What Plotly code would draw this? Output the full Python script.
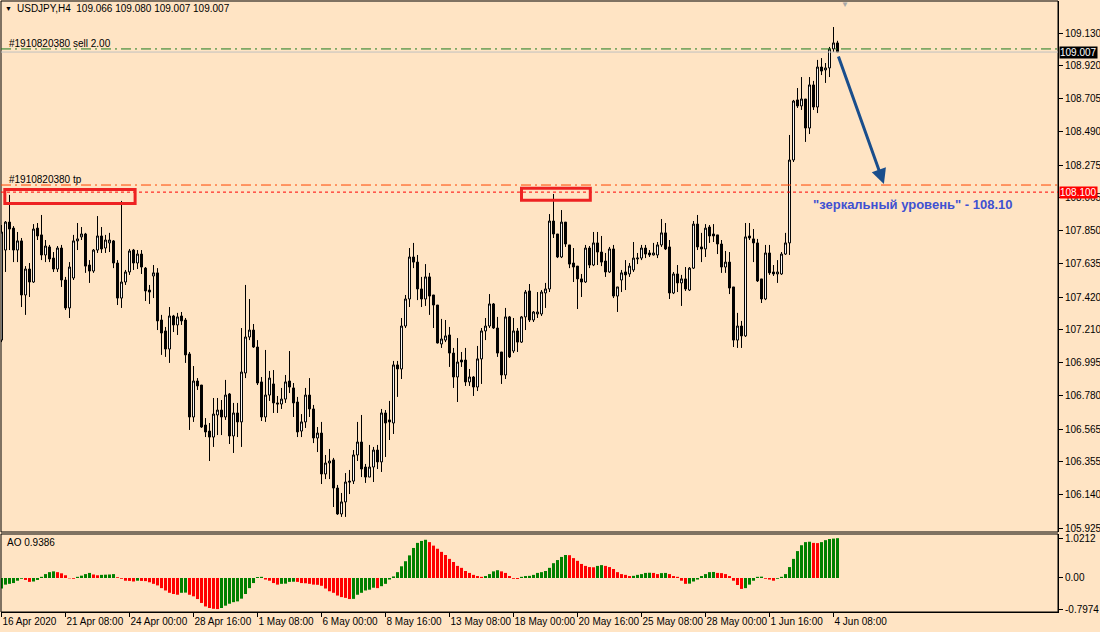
import plotly.graph_objects as go

# ---------------- data ----------------
opens = [107.142, 107.725, 107.906, 107.867, 107.725, 107.784, 107.434, 107.602, 107.518, 107.867,
         107.823, 107.693, 107.745, 107.673, 107.602, 107.738, 107.531, 107.350, 107.544, 107.784,
         107.810, 107.829, 107.628, 107.589, 107.725, 107.816, 107.738, 107.771, 107.784, 107.641,
         107.414, 107.518, 107.583, 107.725, 107.641, 107.699, 107.608, 107.466, 107.557, 107.577,
         107.272, 107.201, 107.084, 107.298, 107.240, 107.298, 107.272, 107.052, 106.644, 106.877,
         106.851, 106.592, 106.553, 106.514, 106.657, 106.689, 106.644, 106.793, 106.521, 106.670,
         106.612, 106.929, 107.162, 107.207, 107.097, 106.871, 106.644, 106.786, 106.858, 106.735,
         106.728, 106.760, 106.877, 106.832, 106.741, 106.553, 106.612, 106.786, 106.696, 106.508,
         106.540, 106.275, 106.346, 106.366, 106.184, 106.016, 106.094, 106.229, 106.229, 106.398,
         106.482, 106.320, 106.255, 106.320, 106.430, 106.353, 106.670, 106.625, 106.605, 106.981,
         106.955, 107.233, 107.408, 107.680, 107.647, 107.473, 107.408, 107.551, 107.434, 107.369,
         107.117, 107.142, 107.175, 107.058, 106.903, 107.013, 107.013, 106.871, 106.903, 106.838,
         107.020, 107.201, 107.233, 107.376, 107.220, 107.065, 106.916, 107.292, 107.071, 107.201,
         107.129, 107.292, 107.460, 107.272, 107.311, 107.311, 107.447, 107.473, 107.913, 107.829,
         107.680, 107.906, 107.758, 107.641, 107.621, 107.538, 107.518, 107.738, 107.628, 107.771,
         107.712, 107.654, 107.583, 107.732, 107.427, 107.531, 107.583, 107.570, 107.596, 107.667,
         107.673, 107.738, 107.706, 107.693, 107.693, 107.758, 107.836, 107.745, 107.447, 107.570,
         107.512, 107.538, 107.466, 107.608, 107.893, 107.745, 107.732, 107.874, 107.829, 107.823,
         107.764, 107.615, 107.647, 107.486, 107.142, 107.233, 107.169, 107.816, 107.797, 107.771,
         107.538, 107.408, 107.706, 107.583, 107.570, 107.570, 107.699, 107.771, 108.308, 108.697,
         108.658, 108.703, 108.515, 108.794, 108.651, 108.910, 108.891, 108.904, 109.027, 109.066]
highs = [107.887, 107.913, 108.082, 107.880, 107.842, 107.803, 107.621, 107.641, 107.893, 107.900,
         107.952, 107.790, 107.758, 107.712, 107.751, 107.758, 107.551, 107.647, 107.823, 107.900,
         107.874, 107.836, 107.660, 107.732, 107.945, 107.874, 107.823, 107.836, 107.790, 107.660,
         108.043, 107.596, 107.732, 107.732, 107.725, 107.725, 107.615, 107.499, 107.628, 107.608,
         107.305, 107.227, 107.356, 107.305, 107.318, 107.324, 107.285, 107.065, 106.974, 106.896,
         106.851, 106.637, 106.605, 106.767, 106.767, 106.754, 106.884, 106.799, 106.735, 106.735,
         107.220, 107.499, 107.408, 107.246, 107.142, 106.903, 107.078, 106.942, 106.948, 106.780,
         106.832, 106.916, 107.071, 106.864, 106.774, 106.663, 106.832, 106.896, 106.722, 106.579,
         106.612, 106.398, 106.437, 106.379, 106.204, 106.152, 106.281, 106.301, 106.430, 106.612,
         106.657, 106.340, 106.463, 106.450, 106.463, 106.696, 106.689, 106.748, 107.007, 107.007,
         107.285, 107.434, 107.738, 107.771, 107.693, 107.551, 107.634, 107.577, 107.434, 107.369,
         107.279, 107.272, 107.227, 107.091, 107.155, 107.065, 107.091, 106.955, 106.909, 107.104,
         107.220, 107.285, 107.440, 107.382, 107.292, 107.065, 107.350, 107.298, 107.285, 107.220,
         107.298, 107.466, 107.505, 107.330, 107.453, 107.466, 107.512, 107.958, 108.088, 107.829,
         107.984, 107.906, 107.758, 107.738, 107.621, 107.570, 107.758, 107.751, 107.842, 107.842,
         107.816, 107.706, 107.745, 107.758, 107.486, 107.596, 107.660, 107.641, 107.777, 107.706,
         107.758, 107.758, 107.725, 107.771, 107.777, 107.926, 107.900, 107.790, 107.583, 107.628,
         107.564, 107.615, 107.615, 107.913, 107.952, 107.836, 107.893, 107.887, 107.893, 107.823,
         107.790, 107.719, 107.712, 107.486, 107.318, 107.266, 107.900, 107.900, 107.861, 107.797,
         107.538, 107.758, 107.758, 107.628, 107.660, 107.712, 107.836, 108.470, 108.697, 108.774,
         108.845, 108.703, 108.845, 108.820, 108.956, 108.968, 108.936, 109.040, 109.169, 109.080]
lows = [107.129, 107.583, 107.725, 107.647, 107.647, 107.356, 107.305, 107.421, 107.512, 107.790,
        107.660, 107.647, 107.647, 107.583, 107.583, 107.486, 107.337, 107.285, 107.531, 107.725,
        107.790, 107.577, 107.512, 107.577, 107.706, 107.706, 107.706, 107.712, 107.608, 107.369,
        107.350, 107.499, 107.564, 107.596, 107.602, 107.570, 107.395, 107.376, 107.414, 107.207,
        107.046, 107.033, 106.994, 107.194, 107.175, 107.240, 106.994, 106.560, 106.612, 106.819,
        106.573, 106.514, 106.359, 106.450, 106.527, 106.527, 106.625, 106.469, 106.411, 106.514,
        106.450, 106.896, 107.142, 107.091, 106.851, 106.618, 106.612, 106.748, 106.670, 106.670,
        106.696, 106.735, 106.799, 106.644, 106.514, 106.514, 106.573, 106.644, 106.475, 106.417,
        106.210, 106.242, 106.242, 106.061, 106.010, 105.997, 105.997, 106.145, 106.210, 106.359,
        106.255, 106.217, 106.255, 106.223, 106.307, 106.288, 106.385, 106.495, 106.534, 106.774,
        106.890, 107.220, 107.356, 107.608, 107.401, 107.356, 107.363, 107.305, 107.220, 107.120,
        107.091, 107.129, 106.968, 106.832, 106.741, 106.968, 106.845, 106.845, 106.780, 106.812,
        106.858, 107.142, 107.220, 107.214, 107.033, 106.858, 106.890, 107.026, 107.058, 107.065,
        107.123, 107.207, 107.259, 107.259, 107.285, 107.298, 107.350, 107.453, 107.803, 107.673,
        107.673, 107.745, 107.608, 107.518, 107.343, 107.421, 107.512, 107.608, 107.621, 107.628,
        107.621, 107.551, 107.577, 107.414, 107.324, 107.453, 107.466, 107.551, 107.583, 107.634,
        107.660, 107.673, 107.680, 107.690, 107.673, 107.745, 107.725, 107.408, 107.440, 107.453,
        107.363, 107.460, 107.460, 107.602, 107.725, 107.647, 107.680, 107.771, 107.777, 107.699,
        107.577, 107.577, 107.440, 107.097, 107.091, 107.091, 107.162, 107.790, 107.647, 107.518,
        107.382, 107.401, 107.564, 107.557, 107.512, 107.564, 107.693, 107.693, 108.295, 108.645,
        108.632, 108.425, 108.476, 108.632, 108.612, 108.858, 108.807, 108.845, 109.007, 109.007]
closes = [107.842, 107.906, 107.861, 107.725, 107.784, 107.434, 107.602, 107.518, 107.861, 107.816,
          107.693, 107.751, 107.667, 107.602, 107.738, 107.531, 107.350, 107.615, 107.784, 107.797,
          107.829, 107.621, 107.589, 107.725, 107.816, 107.732, 107.790, 107.790, 107.641, 107.414,
          107.518, 107.583, 107.719, 107.641, 107.699, 107.615, 107.460, 107.453, 107.577, 107.266,
          107.188, 107.084, 107.298, 107.240, 107.292, 107.266, 107.046, 106.644, 106.877, 106.845,
          106.579, 106.547, 106.514, 106.663, 106.689, 106.644, 106.786, 106.521, 106.670, 106.612,
          106.935, 107.162, 107.207, 107.097, 106.864, 106.644, 106.786, 106.896, 106.735, 106.728,
          106.760, 106.871, 106.838, 106.735, 106.547, 106.612, 106.786, 106.696, 106.508, 106.540,
          106.275, 106.346, 106.359, 106.184, 106.016, 106.094, 106.223, 106.223, 106.398, 106.482,
          106.307, 106.255, 106.320, 106.430, 106.353, 106.670, 106.605, 106.612, 106.981, 106.955,
          107.233, 107.408, 107.680, 107.647, 107.473, 107.408, 107.551, 107.427, 107.369, 107.123,
          107.149, 107.169, 107.058, 106.903, 107.000, 107.000, 106.871, 106.903, 106.838, 107.020,
          107.201, 107.233, 107.376, 107.220, 107.058, 106.916, 107.292, 107.033, 107.201, 107.129,
          107.292, 107.453, 107.272, 107.324, 107.324, 107.453, 107.473, 107.913, 107.829, 107.680,
          107.906, 107.764, 107.634, 107.615, 107.538, 107.518, 107.738, 107.628, 107.771, 107.712,
          107.647, 107.583, 107.732, 107.427, 107.486, 107.577, 107.564, 107.621, 107.673, 107.673,
          107.738, 107.699, 107.693, 107.706, 107.758, 107.836, 107.732, 107.447, 107.570, 107.512,
          107.538, 107.473, 107.608, 107.893, 107.745, 107.732, 107.867, 107.816, 107.816, 107.764,
          107.615, 107.647, 107.479, 107.142, 107.233, 107.169, 107.810, 107.803, 107.771, 107.525,
          107.408, 107.706, 107.577, 107.570, 107.583, 107.699, 107.771, 108.308, 108.690, 108.658,
          108.703, 108.515, 108.794, 108.651, 108.910, 108.884, 108.904, 109.027, 109.066, 109.007]

ao_values = [-0.27, -0.17, -0.15, -0.13, -0.07, -0.02, -0.05, -0.10, -0.09, -0.05,
             0.03, 0.10, 0.15, 0.17, 0.15, 0.12, 0.07, -0.01, -0.02, 0.03,
             0.06, 0.10, 0.13, 0.09, 0.07, 0.08, 0.085, 0.09, 0.10, 0.02,
             -0.02, -0.07, -0.075, -0.09, -0.07, -0.075, -0.08, -0.11, -0.15, -0.19,
             -0.26, -0.32, -0.38, -0.41, -0.43, -0.38, -0.375, -0.43, -0.47, -0.54,
             -0.64, -0.73, -0.77, -0.79, -0.7974, -0.77, -0.71, -0.66, -0.62, -0.60,
             -0.53, -0.41, -0.26, -0.13, 0.025, 0.03, -0.04, -0.07, -0.13, -0.17,
             -0.15, -0.145, -0.10, -0.095, -0.10, -0.13, -0.135, -0.15, -0.17, -0.175,
             -0.20, -0.27, -0.34, -0.38, -0.45, -0.49, -0.51, -0.54, -0.535, -0.43,
             -0.38, -0.32, -0.30, -0.25, -0.26, -0.21, -0.15, -0.04, 0.04, 0.15,
             0.30, 0.43, 0.58, 0.77, 0.90, 0.95, 0.98, 0.92, 0.83, 0.75,
             0.67, 0.59, 0.49, 0.41, 0.31, 0.26, 0.18, 0.13, 0.08, 0.05,
             0.03, 0.05, 0.10, 0.17, 0.20, 0.17, 0.13, 0.05, -0.02, -0.025,
             0.03, 0.05, 0.055, 0.08, 0.13, 0.15, 0.18, 0.26, 0.38, 0.46,
             0.54, 0.59, 0.585, 0.51, 0.44, 0.36, 0.31, 0.28, 0.275, 0.31,
             0.33, 0.31, 0.28, 0.23, 0.15, 0.10, 0.08, 0.05, 0.055, 0.08,
             0.10, 0.13, 0.135, 0.13, 0.10, 0.125, 0.13, 0.10, 0.05, 0.03,
             -0.07, -0.15, -0.145, -0.09, -0.04, 0.05, 0.10, 0.15, 0.155, 0.13,
             0.125, 0.10, 0.05, -0.07, -0.18, -0.28, -0.26, -0.17, -0.07, 0.03,
             0.035, -0.02, -0.04, -0.07, -0.02, 0.03, 0.10, 0.28, 0.49, 0.69,
             0.84, 0.92, 0.93, 0.90, 0.895, 0.92, 0.97, 1.00, 1.01, 1.0212]

x_tick_bars = [0, 16, 32, 48, 64, 80, 96, 112, 128, 144, 160, 176, 192, 208]
x_tick_labels = ["16 Apr 2020", "21 Apr 08:00", "24 Apr 00:00", "28 Apr 16:00", "1 May 08:00",
                 "6 May 00:00", "8 May 16:00", "13 May 08:00", "18 May 00:00", "20 May 16:00",
                 "25 May 08:00", "28 May 00:00", "1 Jun 16:00", "4 Jun 08:00"]
price_ticks = [109.130, 108.920, 108.705, 108.490, 108.275, 108.065, 107.850, 107.635,
               107.420, 107.210, 106.995, 106.780, 106.565, 106.355, 106.140, 105.925]
ao_ticks = [1.0212, 0.0, -0.7974]
ao_tick_labels = ["1.0212", "0.00", "-0.7974"]

header_text = "USDJPY,H4  109.066 109.080 109.007 109.007"
ao_label = "AO 0.9386"
sell_label = "#1910820380 sell 2.00"
tp_label = "#1910820380 tp"
mirror_text = "\"зеркальный уровень\" - 108.10"
sell_price = 109.027
bid_price = 109.007
tp_price = 108.146
mirror_level = 108.100
box1 = dict(x0=0.83, x1=33.4, y0=108.026, y1=108.117)
box2 = dict(x0=130.0, x1=147.2, y0=108.048, y1=108.125)
arrow_tail = (209.1, 108.988)
arrow_head = (220.6, 108.153)

# ---------------- figure ----------------
BG = "#FFE4C4"
W, H = 1100, 632
ML, MR, MT, MB = 1, 42, 1, 20
PW, PH = W - ML - MR, H - MT - MB


def pxx(px):
    return (px - ML) / PW


def pxy(py):
    return (H - MB - py) / PH


bars = list(range(len(opens)))
ao_colors = []
for i, v in enumerate(ao_values):
    if i == 0 or v >= ao_values[i - 1]:
        ao_colors.append("#008000")
    else:
        ao_colors.append("#FF0000")

FONT = "Liberation Sans, Arial, sans-serif"

fig = go.Figure()
fig.add_trace(go.Candlestick(
    x=bars, open=opens, high=highs, low=lows, close=closes,
    xaxis="x", yaxis="y",
    increasing=dict(line=dict(color="black", width=1), fillcolor="white"),
    decreasing=dict(line=dict(color="black", width=1), fillcolor="black"),
    whiskerwidth=0, showlegend=False, hoverinfo="skip",
))
fig.add_trace(go.Bar(
    x=bars, y=ao_values, xaxis="x", yaxis="y2", width=0.75,
    marker=dict(color=ao_colors, line=dict(width=0)), showlegend=False, hoverinfo="skip",
))

main_bottom = pxy(532)
ao_top = pxy(534)

shapes = [
    # panel borders
    dict(type="rect", xref="paper", yref="paper", x0=0, x1=1, y0=main_bottom, y1=1,
         line=dict(color="black", width=1), layer="above"),
    dict(type="rect", xref="paper", yref="paper", x0=0, x1=1, y0=0, y1=ao_top,
         line=dict(color="black", width=1), layer="above"),
    # order / level lines
    dict(type="line", xref="paper", yref="y", x0=0, x1=1, y0=bid_price, y1=bid_price,
         line=dict(color="#C0C0C0", width=1)),
    dict(type="line", xref="paper", yref="y", x0=0, x1=1, y0=sell_price, y1=sell_price,
         line=dict(color="#1E7B1E", width=1, dash="10px,4px,2px,4px")),
    dict(type="line", xref="paper", yref="y", x0=0, x1=1, y0=tp_price, y1=tp_price,
         line=dict(color="#FF4500", width=1, dash="10px,4px,2px,4px")),
    dict(type="line", xref="paper", yref="y", x0=0, x1=1, y0=mirror_level, y1=mirror_level,
         line=dict(color="#FF0000", width=1, dash="3px,3px")),
    # red rectangles
    dict(type="rect", xref="x", yref="y", line=dict(color="#EE2222", width=3), **box1),
    dict(type="rect", xref="x", yref="y", line=dict(color="#EE2222", width=3), **box2),
]

annotations = [
    dict(xref="paper", yref="paper", x=pxx(3), y=pxy(8), text="▼", showarrow=False,
         xanchor="left", yanchor="middle", font=dict(size=7, color="black", family=FONT)),
    dict(xref="paper", yref="paper", x=pxx(15), y=pxy(9), text=header_text, showarrow=False,
         xanchor="left", yanchor="middle", font=dict(size=10, color="black", family=FONT)),
    dict(xref="paper", yref="paper", x=pxx(7), y=pxy(43), text=sell_label, showarrow=False,
         xanchor="left", yanchor="middle", font=dict(size=10, color="black", family=FONT)),
    dict(xref="paper", yref="paper", x=pxx(7), y=pxy(180), text=tp_label, showarrow=False,
         xanchor="left", yanchor="middle", font=dict(size=10, color="black", family=FONT)),
    dict(xref="paper", yref="paper", x=pxx(5), y=pxy(542), text=ao_label, showarrow=False,
         xanchor="left", yanchor="middle", font=dict(size=10, color="black", family=FONT)),
    dict(xref="paper", yref="paper", x=pxx(811), y=pxy(204), text=mirror_text, showarrow=False,
         xanchor="left", yanchor="middle",
         font=dict(size=13, color="#3F51D2", family=FONT, weight="bold")),
    dict(xref="paper", yref="paper", x=pxx(845), y=pxy(4), text="▼", showarrow=False,
         xanchor="center", yanchor="middle", font=dict(size=8, color="#A8A8A8", family=FONT)),
    # price tags on the scale
    dict(xref="paper", yref="y", x=1, y=bid_price, xshift=1, text="109.007", showarrow=False,
         xanchor="left", yanchor="middle", bgcolor="black", borderpad=0,
         font=dict(size=10, color="white", family=FONT)),
    dict(xref="paper", yref="y", x=1, y=mirror_level, xshift=1, text="108.100", showarrow=False,
         xanchor="left", yanchor="middle", bgcolor="#FF0000", borderpad=0,
         font=dict(size=10, color="white", family=FONT)),
    # arrow
    dict(xref="x", yref="y", axref="x", ayref="y", x=arrow_head[0], y=arrow_head[1],
         ax=arrow_tail[0], ay=arrow_tail[1], text="", showarrow=True,
         arrowhead=2, arrowsize=1, arrowwidth=3, arrowcolor="#1A4E8C"),
]

fig.update_layout(
    width=W, height=H,
    margin=dict(l=ML, r=MR, t=MT, b=MB, autoexpand=False),
    paper_bgcolor=BG, plot_bgcolor=BG,
    showlegend=False, hovermode=False,
    font=dict(family=FONT, size=10, color="black"),
    xaxis=dict(
        domain=[0, 1], anchor="y2", range=[-0.125, 264.125], automargin=False,
        showgrid=False, zeroline=False, showline=True, linecolor="black", linewidth=1,
        ticks="outside", ticklen=4, tickcolor="black", tickangle=0,
        tickvals=x_tick_bars, ticktext=x_tick_labels, ticklabelposition="outside right",
        tickfont=dict(size=10, family=FONT), rangeslider=dict(visible=False),
    ),
    yaxis=dict(
        domain=[main_bottom, 1], anchor="x", side="right", automargin=False,
        range=[105.8993, 109.3375],
        showgrid=False, zeroline=False, showline=True, linecolor="black", linewidth=1,
        ticks="outside", ticklen=4, tickcolor="black",
        tickvals=price_ticks, ticktext=[f"{v:.3f}" for v in price_ticks],
        tickfont=dict(size=10, family=FONT),
    ),
    yaxis2=dict(
        domain=[0, ao_top], anchor="x", side="right", automargin=False,
        range=[-0.872, 1.128],
        showgrid=False, zeroline=False, showline=True, linecolor="black", linewidth=1,
        ticks="outside", ticklen=4, tickcolor="black",
        tickvals=ao_ticks, ticktext=ao_tick_labels,
        tickfont=dict(size=10, family=FONT),
    ),
    shapes=shapes,
    annotations=annotations,
)

fig.write_html(
    "out.html",
    config={"displayModeBar": False, "staticPlot": True},
    post_script="document.body.style.margin='0';document.body.style.padding='0';"
                "document.body.style.overflow='hidden';document.body.style.background='" + BG + "';",
)
